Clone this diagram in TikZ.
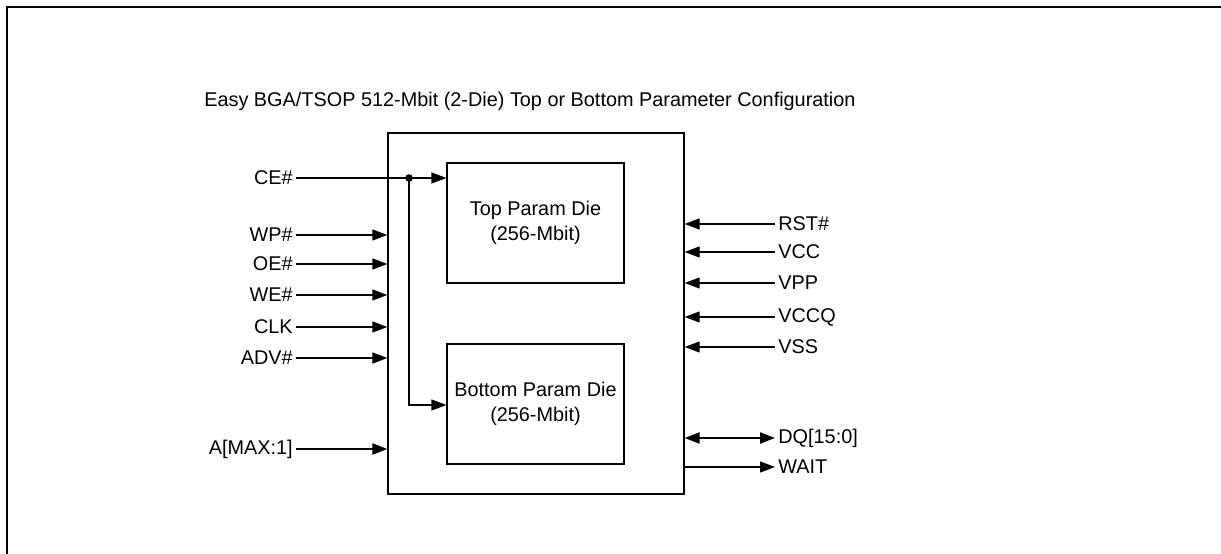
\documentclass[tikz,border=0pt]{standalone}
\usepackage{fontspec}
\setmainfont{Liberation Sans}
\usetikzlibrary{arrows.meta}
\tikzset{
  pinname/.style={inner sep=0.6mm, font=\fontsize{11.3}{13}\selectfont},
  die/.style={draw, line width=0.25mm, minimum width=35.4mm, minimum height=24mm,
    align=center, font=\fontsize{11.3}{14.2}\selectfont},
  sig/.style={-{Triangle[length=3mm,width=2.2mm]}, line width=0.25mm},
  bus/.style={{Triangle[length=3mm,width=2.2mm]}-{Triangle[length=3mm,width=2.2mm]}, line width=0.45mm}
}
\begin{document}
\begin{tikzpicture}[x=0.2mm,y=-0.2mm]
\useasboundingbox (0,0) rectangle (1221,554);
\draw[line width=0.45mm] (7,554) -- (7,7) -- (1221,7);
\node[pinname, anchor=west] (title) at (201,101) {Easy BGA/TSOP 512-Mbit (2-Die) Top or Bottom Parameter Configuration};
% package outline and the two dies
\node[draw, line width=0.25mm, minimum width=59.2mm, minimum height=72.2mm] (chip) at (536,313.5) {};
\node[die] (top) at (535.5,223) {Top Param Die\\(256-Mbit)};
\node[die] (bot) at (535.5,404) {Bottom Param Die\\(256-Mbit)};
% left side inputs
\node[pinname, anchor=east] (ce) at (296,178) {CE\#};
\node[pinname, anchor=east] (wp) at (296,235) {WP\#};
\node[pinname, anchor=east] (oe) at (296,264) {OE\#};
\node[pinname, anchor=east] (we) at (296,295) {WE\#};
\node[pinname, anchor=east] (clk) at (296,327) {CLK};
\node[pinname, anchor=east] (adv) at (296,358) {ADV\#};
\node[pinname, anchor=east] (addr) at (296,449) {A[MAX:1]};
\coordinate (split) at (409,178);
\draw[sig] (ce.east) -- (ce.east -| top.west);
\fill (split) circle (3.8);
\draw[sig] (split) |- (bot.west |- 0,405);
\draw[sig] (wp.east) -- (wp.east -| chip.west);
\draw[sig] (oe.east) -- (oe.east -| chip.west);
\draw[sig] (we.east) -- (we.east -| chip.west);
\draw[sig] (clk.east) -- (clk.east -| chip.west);
\draw[sig] (adv.east) -- (adv.east -| chip.west);
\draw[sig, line width=0.45mm] (addr.east) -- (addr.east -| chip.west);
% right side
\node[pinname, anchor=west] (rst) at (775,224) {RST\#};
\node[pinname, anchor=west] (vcc) at (775,252) {VCC};
\node[pinname, anchor=west] (vpp) at (775,283) {VPP};
\node[pinname, anchor=west] (vccq) at (775,317) {VCCQ};
\node[pinname, anchor=west] (vss) at (775,347) {VSS};
\node[pinname, anchor=west] (dq) at (775,438) {DQ[15:0]};
\node[pinname, anchor=west] (wait) at (775,467) {WAIT};
\draw[sig] (rst.west) -- (rst.west -| chip.east);
\draw[sig] (vcc.west) -- (vcc.west -| chip.east);
\draw[sig] (vpp.west) -- (vpp.west -| chip.east);
\draw[sig] (vccq.west) -- (vccq.west -| chip.east);
\draw[sig] (vss.west) -- (vss.west -| chip.east);
\draw[bus] (dq.west) -- (dq.west -| chip.east);
\draw[sig] (wait.west -| chip.east) -- (wait.west);
\end{tikzpicture}
\end{document}
